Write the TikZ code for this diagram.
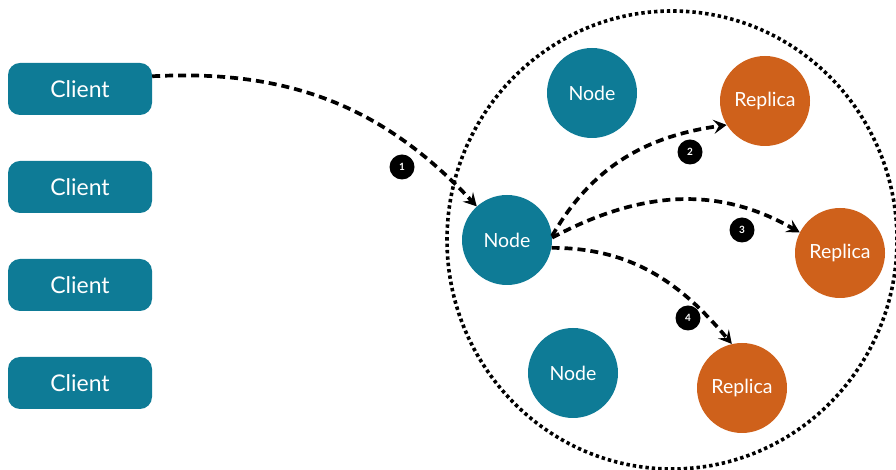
\documentclass[tikz,border=0pt]{standalone}
\usepackage{fontspec}
\setmainfont{Lato}
\usepackage{tikz}
\usetikzlibrary{arrows.meta, positioning}
\usepackage{xcolor}
\definecolor{clusterTeal}{RGB}{14, 123, 150}
\definecolor{replicaOrange}{RGB}{207, 97, 27}

\begin{document}
\begin{tikzpicture}[x=1pt, y=1pt,
    clientbox/.style={fill=clusterTeal, rounded corners=12pt, minimum width=144pt,
                      minimum height=52pt, text=white, font=\fontsize{23}{26}\selectfont},
    member/.style={circle, minimum size=90pt, inner sep=0pt, text=white,
                   font=\fontsize{19.5}{22}\selectfont},
    badge/.style={circle, fill=black, minimum size=25pt, inner sep=0pt, text=white,
                  font=\fontsize{10}{11}\selectfont\bfseries},
    msg/.style={line width=3.7pt, dash pattern=on 8pt off 5pt,
                -{Stealth[length=13pt, width=14pt, inset=5pt]}},
    ringline/.style={line width=3.6pt, dash pattern=on 3.4pt off 3pt}]
  \useasboundingbox (0,0) rectangle (896,470);

  % Clients on the left
  \foreach \i/\y in {1/381, 2/283, 3/185, 4/87} {
    \node[clientbox] (c\i) at (80,\y) {Client};
  }

  % Cluster boundary
  \draw[ringline] (672,230) ellipse [x radius=225, y radius=229];

  % Cluster members
  \node[member, fill=clusterTeal] (nA) at (507,230) {Node};
  \node[member, fill=clusterTeal] (nB) at (592,377) {Node};
  \node[member, fill=clusterTeal] (nC) at (573,97) {Node};
  \node[member, fill=replicaOrange] (rA) at (765,369) {Replica};
  \node[member, fill=replicaOrange] (rB) at (840,217) {Replica};
  \node[member, fill=replicaOrange] (rC) at (742,82) {Replica};

  % Request and replication steps
  \draw[msg] (c1.10) to[out=3, in=133] (nA.132);
  \draw[msg] (nA.5) to[out=60, in=188] (rA.212);
  \draw[msg] (nA.3) to[out=28, in=150] (rB.153);
  \draw[msg] (nA.-10) to[out=0, in=130] (rC.103);

  \node[badge] (b1) at (402,303) {1};
  \node[badge] (b2) at (690,318) {2};
  \node[badge] (b3) at (742,240) {3};
  \node[badge] (b4) at (688,152) {4};
\end{tikzpicture}
\end{document}
